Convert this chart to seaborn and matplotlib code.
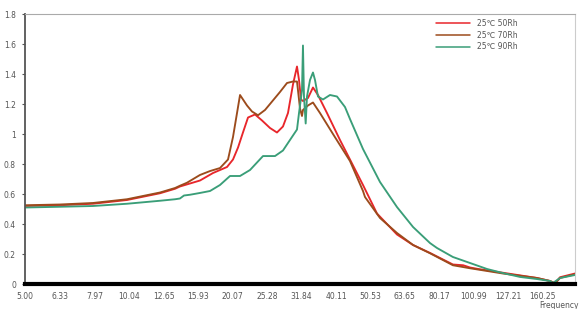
import numpy as np
import pandas as pd
import matplotlib
matplotlib.use("Agg")
import matplotlib.pyplot as plt
import seaborn as sns

# ---- data ----
freq_50 = [5.00, 6.32, 7.88, 9.90, 12.35, 13.66, 14.11, 15.09, 16.14, 17.61, 19.34, 20.13, 20.82,
           21.52, 22.26, 23.33, 24.45, 25.79, 27.02, 28.13, 29.09, 30.08, 30.90, 31.32, 31.74,
           32.16, 33.26, 34.39, 35.56, 37.77, 41.21, 44.06, 48.07, 52.79, 60.36, 67.21, 75.29,
           87.78, 94.0, 98.43, 104.0, 122.7, 154.2, 168.2, 173.9, 179.8, 198.8]
val_50 = [0.52, 0.525, 0.535, 0.56, 0.605, 0.635, 0.65, 0.67, 0.69, 0.74, 0.78, 0.83, 0.91,
          1.01, 1.11, 1.13, 1.09, 1.04, 1.01, 1.05, 1.14, 1.33, 1.45, 1.36, 1.23,
          1.22, 1.24, 1.31, 1.26, 1.14, 0.96, 0.83, 0.66, 0.47, 0.33, 0.26, 0.207,
          0.13, 0.125, 0.11, 0.10, 0.075, 0.04, 0.02, 0.005, 0.045, 0.07]

freq_70 = [5.00, 6.32, 7.88, 9.90, 12.35, 13.66, 14.11, 14.79, 16.14, 17.26, 18.45, 19.47, 20.13,
           20.68, 21.10, 22.11, 22.86, 23.80, 24.94, 25.79, 27.57, 28.90, 30.08, 30.90, 31.53,
           31.95, 32.16, 33.26, 34.39, 36.04, 39.32, 44.06, 48.07, 48.72, 53.87, 60.36, 67.21,
           75.29, 87.78, 98.43, 122.7, 154.2, 168.2, 173.9, 179.8, 198.8]
val_70 = [0.525, 0.53, 0.54, 0.565, 0.61, 0.64, 0.655, 0.675, 0.727, 0.753, 0.773, 0.83, 0.98,
          1.14, 1.26, 1.19, 1.15, 1.125, 1.16, 1.20, 1.28, 1.34, 1.35, 1.35, 1.17,
          1.12, 1.16, 1.19, 1.21, 1.14, 1.00, 0.82, 0.62, 0.58, 0.44, 0.34, 0.26,
          0.205, 0.125, 0.105, 0.07, 0.04, 0.02, 0.003, 0.04, 0.065]

freq_90 = [5.00, 6.32, 7.88, 9.90, 12.35, 13.66, 14.11, 14.50, 15.09, 16.14, 17.26, 18.45, 19.73,
           21.10, 22.56, 24.61, 26.67, 28.13, 29.48, 30.90, 31.32, 31.95, 32.16, 32.38, 32.75,
           33.04, 33.71, 34.39, 34.86, 35.56, 36.77, 38.54, 40.39, 42.61, 44.06, 48.07, 53.87,
           60.36, 67.21, 75.29, 78.91, 87.78, 98.43, 110.3, 122.7, 137.6, 154.2, 168.2, 171.6,
           179.8, 198.8]
val_90 = [0.51, 0.515, 0.52, 0.535, 0.555, 0.565, 0.57, 0.59, 0.595, 0.607, 0.62, 0.66, 0.72,
          0.72, 0.76, 0.853, 0.853, 0.89, 0.96, 1.03, 1.14, 1.29, 1.59, 1.25, 1.07,
          1.25, 1.36, 1.41, 1.36, 1.25, 1.23, 1.26, 1.25, 1.18, 1.10, 0.90, 0.68,
          0.513, 0.38, 0.273, 0.24, 0.18, 0.14, 0.10, 0.073, 0.047, 0.033, 0.02, 0.007,
          0.04, 0.06]

series_names = ["25\u2103 50Rh", "25\u2103 70Rh", "25\u2103 90Rh"]
colors = ["#e8262b", "#9c4b1c", "#3a9e78"]

x_tick_vals = [5.00, 6.33, 7.97, 10.04, 12.65, 15.93, 20.07, 25.28, 31.84, 40.11, 50.53,
               63.65, 80.17, 100.99, 127.21, 160.25]
x_tick_labels = ["5.00", "6.33", "7.97", "10.04", "12.65", "15.93", "20.07", "25.28", "31.84",
                 "40.11", "50.53", "63.65", "80.17", "100.99", "127.21", "160.25"]
y_tick_vals = [0, 0.2, 0.4, 0.6, 0.8, 1.0, 1.2, 1.4, 1.6, 1.8]
y_tick_labels = ["0", "0.2", "0.4", "0.6", "0.8", "1", "1.2", "1.4", "1.6", "1.8"]

df = pd.concat([
    pd.DataFrame({"freq": freq_50, "val": val_50, "series": series_names[0]}),
    pd.DataFrame({"freq": freq_70, "val": val_70, "series": series_names[1]}),
    pd.DataFrame({"freq": freq_90, "val": val_90, "series": series_names[2]}),
], ignore_index=True)

sns.set_style("white")
plt.rcParams["font.family"] = ["DejaVu Sans", "Noto Sans CJK KR"]

fig = plt.figure(figsize=(5.79, 3.09), dpi=100)
ax = fig.add_axes([25 / 579, 1 - 284 / 309, 550 / 579, 270 / 309])

sns.lineplot(data=df, x="freq", y="val", hue="series", palette=colors,
             estimator=None, linewidth=1.35, ax=ax, legend=True)

ax.set_xscale("log")
ax.set_xlim(5.0, 198.8)
ax.set_ylim(0, 1.8)
ax.set_xticks(x_tick_vals)
ax.set_xticklabels(x_tick_labels)
ax.xaxis.set_minor_locator(matplotlib.ticker.NullLocator())
ax.set_yticks(y_tick_vals)
ax.set_yticklabels(y_tick_labels)
ax.set_xlabel("")
ax.set_ylabel("")

ax.tick_params(axis="x", length=0, pad=6, labelsize=5.5, labelcolor="#555555")
ax.tick_params(axis="y", length=2.5, width=0.8, color="#555555", pad=4, labelsize=5.5,
               labelcolor="#555555", left=True)

for side in ["top", "right", "left", "bottom"]:
    ax.spines[side].set_visible(True)
ax.spines["bottom"].set_color("black")
ax.spines["bottom"].set_linewidth(3.0)
ax.spines["left"].set_color("#555555")
ax.spines["left"].set_linewidth(1.3)
ax.spines["top"].set_color("#aaaaaa")
ax.spines["top"].set_linewidth(0.8)
ax.spines["right"].set_color("#cccccc")
ax.spines["right"].set_linewidth(0.8)

leg = ax.legend(loc="upper left", bbox_to_anchor=((436 - 25) / 550, (284 - 19) / 270),
                frameon=False, fontsize=5.5, handlelength=4.5, handletextpad=0.9,
                labelspacing=0.35, borderpad=0, borderaxespad=0)
for line in leg.get_lines():
    line.set_linewidth(1.1)
for t in leg.get_texts():
    t.set_color("#555555")

fig.text(0.999, 0.012, "Frequency", ha="right", va="center", fontsize=5.5, color="#555555")

fig.savefig("out.png", dpi=100)
